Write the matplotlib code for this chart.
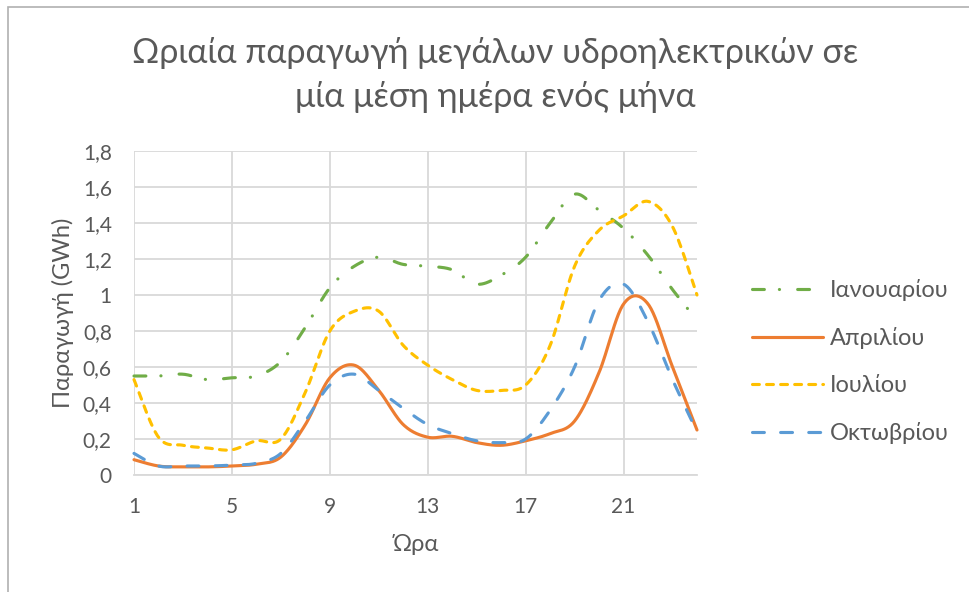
import numpy as np
import matplotlib
matplotlib.use("Agg")
import matplotlib.pyplot as plt
from matplotlib.patches import Rectangle
from matplotlib.ticker import FuncFormatter

hours = list(range(1, 25))
january = [0.55, 0.55, 0.56, 0.53, 0.54, 0.55, 0.63, 0.82, 1.04, 1.16, 1.21, 1.17,
           1.16, 1.14, 1.06, 1.11, 1.21, 1.40, 1.56, 1.47, 1.37, 1.22, 1.03, 0.86]
april = [0.085, 0.05, 0.045, 0.045, 0.05, 0.06, 0.10, 0.28, 0.54, 0.61, 0.47, 0.28,
         0.21, 0.215, 0.18, 0.165, 0.19, 0.23, 0.30, 0.57, 0.95, 0.95, 0.60, 0.25]
july = [0.53, 0.21, 0.165, 0.15, 0.14, 0.19, 0.20, 0.46, 0.80, 0.91, 0.91, 0.72,
        0.61, 0.53, 0.47, 0.47, 0.50, 0.72, 1.16, 1.36, 1.44, 1.52, 1.38, 1.00]
october = [0.12, 0.05, 0.05, 0.05, 0.055, 0.065, 0.12, 0.30, 0.50, 0.56, 0.47, 0.37,
           0.28, 0.23, 0.19, 0.18, 0.20, 0.36, 0.60, 0.97, 1.06, 0.85, 0.53, 0.24]
series_names = ["Ιανουαρίου", "Απριλίου", "Ιουλίου", "Οκτωβρίου"]
x_ticks = [1, 5, 9, 13, 17, 21]
y_ticks = [0, 0.2, 0.4, 0.6, 0.8, 1.0, 1.2, 1.4, 1.6, 1.8]

TEXT = "#595959"
FONT = "Lato"


def catmull_rom(x, y, steps=24):
    """Smooth curve through the points (spreadsheet-style smoothed line)."""
    x = np.asarray(x, float)
    y = np.asarray(y, float)
    px = np.concatenate([[x[0]], x, [x[-1]]])
    py = np.concatenate([[y[0]], y, [y[-1]]])
    xs, ys = [], []
    t = np.linspace(0, 1, steps, endpoint=False)
    for i in range(1, len(px) - 2):
        for p, out in ((px, xs), (py, ys)):
            p0, p1, p2, p3 = p[i - 1], p[i], p[i + 1], p[i + 2]
            m1 = (p2 - p0) / 2
            m2 = (p3 - p1) / 2
            h00 = 2 * t**3 - 3 * t**2 + 1
            h10 = t**3 - 2 * t**2 + t
            h01 = -2 * t**3 + 3 * t**2
            h11 = t**3 - t**2
            out.extend(h00 * p1 + h10 * m1 + h01 * p2 + h11 * m2)
    xs.append(x[-1])
    ys.append(y[-1])
    return np.array(xs), np.array(ys)


fig = plt.figure(figsize=(9.69, 5.92), dpi=100)
ax = fig.add_axes([134 / 969, 1 - 475 / 592, (697 - 134) / 969, (475 - 151) / 592])

styles = [
    dict(color="#70AD47", linestyle=(0, (3.8, 4.8, 0.05, 5.8))),
    dict(color="#ED7D31", linestyle="-"),
    dict(color="#FFC000", linestyle=(0, (2.2, 2.3))),
    dict(color="#5B9BD5", linestyle=(0, (3.8, 5.2))),
]
for vals, name, st in zip([january, april, july, october], series_names, styles):
    sx, sy = catmull_rom(hours, vals)
    ax.plot(sx, sy, lw=2.25, dash_capstyle="round", solid_capstyle="round",
            label=name, clip_on=False, **st)

ax.set_xlim(1, 24)
ax.set_ylim(0, 1.8)
ax.set_xticks(x_ticks)
ax.set_yticks(y_ticks)
ax.yaxis.set_major_formatter(FuncFormatter(
    lambda v, _: ("%g" % round(v, 1)).replace(".", ",")))
ax.grid(True, color="#D9D9D9", lw=1.3)
ax.set_axisbelow(True)
for s in ["top", "right", "left"]:
    ax.spines[s].set_visible(False)
ax.spines["bottom"].set_color("#D9D9D9")
ax.spines["bottom"].set_linewidth(1.3)
ax.tick_params(length=0, labelsize=15, labelcolor=TEXT)
ax.tick_params(axis="y", pad=16)
ax.tick_params(axis="x", pad=16)
for lab in ax.get_xticklabels() + ax.get_yticklabels():
    lab.set_fontfamily(FONT)

ax.set_xlabel("Ώρα", fontsize=17, color=TEXT, family=FONT, labelpad=12)
ax.set_ylabel("Παραγωγή (GWh)", fontsize=17, color=TEXT, family=FONT, labelpad=6)

fig.text(0.511, 1 - 75 / 592,
         "Ωριαία παραγωγή μεγάλων υδροηλεκτρικών σε\nμία μέση ημέρα ενός μήνα",
         ha="center", va="center", fontsize=24.5, color=TEXT, family=FONT,
         linespacing=1.45)

leg = fig.legend(loc="upper left", bbox_to_anchor=(752 / 969, 1 - 279 / 592),
                 frameon=False, prop=dict(family=FONT, size=17),
                 labelcolor=TEXT, handlelength=3.0, handletextpad=0.3,
                 labelspacing=1.1, borderpad=0, borderaxespad=0)

fig.patches.append(Rectangle((8 / 969, -0.1), 1.2, 1.1 - 7 / 592,
                             transform=fig.transFigure, fill=False,
                             edgecolor="#B0B0B0", lw=1.2))

fig.savefig("out.png", dpi=100)
